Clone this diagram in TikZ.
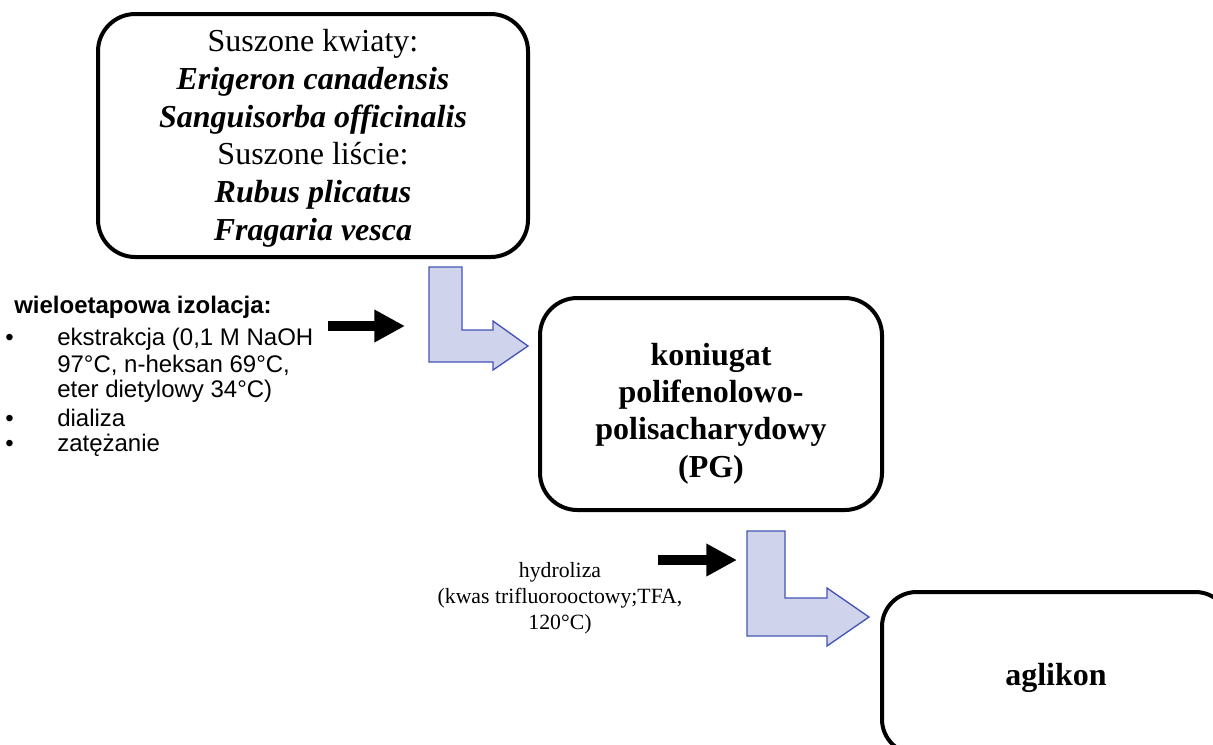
\documentclass[tikz,border=0pt]{standalone}
\usepackage{fontspec}
\setmainfont{Liberation Serif}
\newfontfamily\arialf{Liberation Sans}
\usetikzlibrary{arrows.meta}
\definecolor{bfill}{RGB}{207,211,236}
\definecolor{bline}{RGB}{68,84,181}
\tikzset{
  box/.style={draw=black, line width=3pt, rounded corners=28pt, rectangle, align=center, inner sep=0pt},
  serifbig/.style={font=\fontsize{24}{28.3}\selectfont},
  serifbold/.style={font=\bfseries\fontsize{24}{28}\selectfont},
  bent/.style={fill=bfill, draw=bline, line width=1pt, line join=miter},
  blackarrow/.style={line width=7.5pt, -{Triangle[length=23pt,width=23pt]}},
  sanstext/.style={font=\arialf\fontsize{18}{19}\selectfont, anchor=west, inner sep=0pt},
  bulletmark/.style={font=\arialf\fontsize{18}{19}\selectfont, anchor=base west, inner sep=0pt},
  hydtext/.style={font=\fontsize{16.3}{19.5}\selectfont, align=center, inner sep=0pt}
}
\begin{document}
\begin{tikzpicture}[x=0.75pt,y=-0.75pt]
\useasboundingbox (0,0) rectangle (1213,744);
\clip (0,0) rectangle (1213,744);
% boxes
\node[box, serifbig, minimum width=322.5pt, minimum height=182.25pt] (src) at (313,135.5)
  {\rule{0pt}{21pt}Suszone kwiaty:\\ \textbf{\textit{Erigeron canadensis}}\\ \textbf{\textit{Sanguisorba officinalis}}\\ Suszone liście:\\ \textbf{\textit{Rubus plicatus}}\\ \textbf{\textit{Fragaria vesca}}};
\node[box, serifbold, minimum width=256.5pt, minimum height=159pt] (pg) at (711,404)
  {\rule{0pt}{31pt}koniugat\\ polifenolowo-\\ polisacharydowy\\ (PG)};
\node[box, serifbold, rounded corners=26pt, minimum width=261pt, minimum height=121.5pt] (agl) at (1056,673) {\rule{0pt}{24pt}aglikon};
% bent arrows
\draw[bent] (429,267) -- (462,267) -- (462,330) -- (493,330) -- (493,321) -- (528,346) -- (493,370) -- (493,362) -- (429,362) -- cycle;
\draw[bent] (747,531) -- (785,531) -- (785,598) -- (827,598) -- (827,588) -- (869,617) -- (827,646) -- (827,636) -- (747,636) -- cycle;
% black arrows
\coordinate (a1s) at (328,326);
\coordinate (a1e) at (405,326);
\draw[blackarrow] (a1s) -- (a1e);
\coordinate (a2s) at (658,560);
\coordinate (a2e) at (737,560);
\draw[blackarrow] (a2s) -- (a2e);
% left text
\node[sanstext, font=\arialf\bfseries\fontsize{18}{19}\selectfont] (title) at (14,307) {wieloetapowa izolacja:};
\node[sanstext] (l1) at (57,339) {ekstrakcja (0,1 M NaOH};
\node[sanstext] (l2) at (57,365) {97°C, n-heksan 69°C,};
\node[sanstext] (l3) at (57,391) {eter dietylowy 34°C)};
\node[sanstext] (l4) at (57,418) {dializa};
\node[sanstext] (l5) at (57,445) {zatężanie};
\path (l1.base west) ++(-52,0) node[bulletmark] (b1) {•};
\path (l4.base west) ++(-52,0) node[bulletmark] (b2) {•};
\path (l5.base west) ++(-52,0) node[bulletmark] (b3) {•};
% hydrolysis text
\node[hydtext] (hyd) at (560,598) {hydroliza\\ (kwas trifluorooctowy;TFA,\\ 120°C)};
\end{tikzpicture}
\end{document}
